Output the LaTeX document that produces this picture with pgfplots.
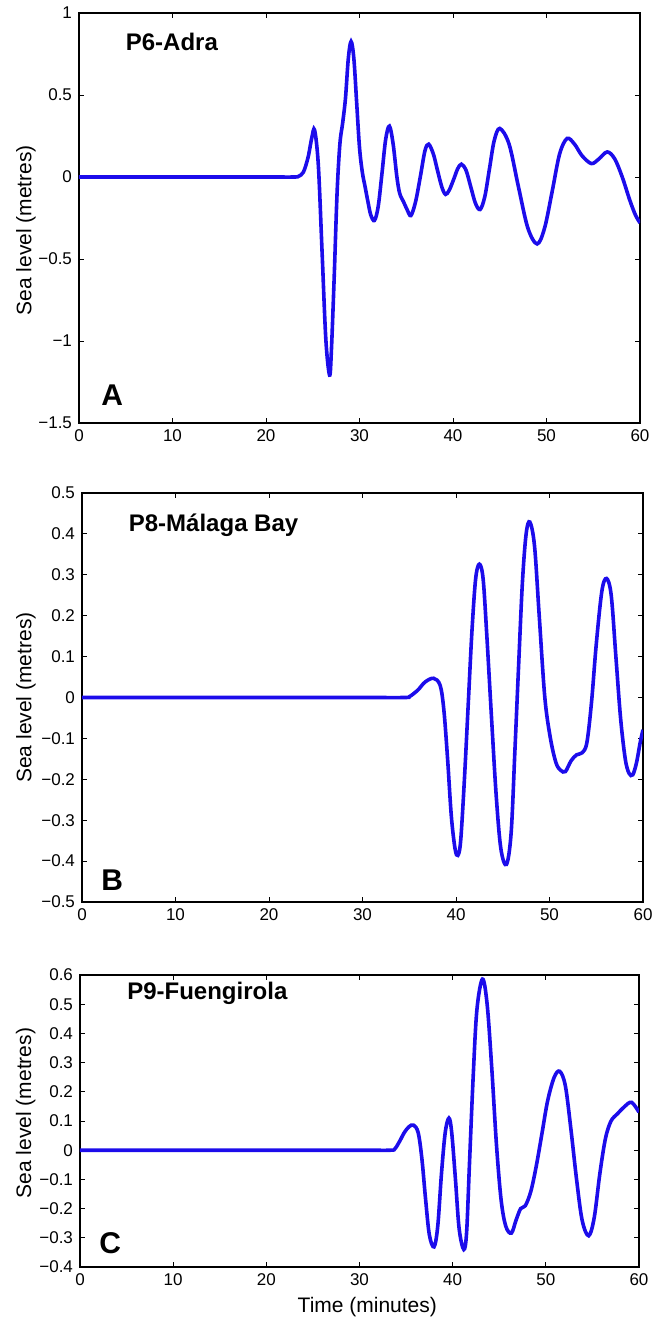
\documentclass[border=0pt]{standalone}
\usepackage{fontspec}
\setmainfont{Liberation Sans}
\usepackage{pgfplots}
\pgfplotsset{compat=1.18}
\definecolor{tideblue}{RGB}{28,12,235}

\pgfplotsset{
  tsunami/.style={
    scale only axis, anchor=north west,
    xmin=0, xmax=60, xtick={0,10,...,60},
    tick align=inside, tick pos=both,
    major tick length=2.5pt,
    axis line style={line width=1.1pt},
    every tick/.style={black, line width=0.5pt},
    tick label style={font=\fontsize{8.5}{9.5}\selectfont},
    /pgf/number format/assume math mode=true,
    ylabel={Sea level (metres)},
    every axis y label/.style={rotate=90, anchor=center, font=\fontsize{10.5}{12}\selectfont},
    every axis x label/.style={anchor=center, font=\fontsize{10.5}{12}\selectfont},
  },
  trace/.style={tideblue, line width=1.8pt, smooth, tension=0.55, no markers},
}

\begin{document}
\begin{tikzpicture}
\useasboundingbox (-39.5pt,6.5pt) rectangle (291pt,-652.5pt);

% A: P6-Adra
\begin{axis}[tsunami, at={(0pt,0pt)}, width=280.5pt, height=205pt,
  ymin=-1.5, ymax=1, ytick={-1.5,-1,-0.5,0,0.5,1},
  yticklabels={−1.5,−1,−0.5,0,0.5,1},
  ylabel style={at={(axis description cs:-0.0945,0.47)}}]
\addplot[trace] coordinates {
 (0,0) (10,0) (20,0) (23.0,0) (23.5,0.005) (24.0,0.03) (24.5,0.12) (24.9,0.24) (25.2,0.286)
 (25.6,0.07) (26.0,-0.46) (26.4,-0.99) (26.8,-1.208)
 (27.0,-1.05) (27.3,-0.6) (27.6,-0.1) (27.9,0.2) (28.2,0.33) (28.5,0.48) (28.8,0.72) (29.1,0.826)
 (29.4,0.72) (29.7,0.45) (30.0,0.18) (30.3,0.03) (30.6,-0.06) (30.9,-0.15) (31.2,-0.23) (31.6,-0.265)
 (32.0,-0.18) (32.4,0.02) (32.8,0.23) (33.2,0.31)
 (33.6,0.2) (34.0,0.0) (34.3,-0.1) (34.7,-0.15) (35.1,-0.2) (35.5,-0.235)
 (36.0,-0.15) (36.5,0.0) (37.0,0.16) (37.4,0.2)
 (37.9,0.14) (38.3,0.05) (38.8,-0.06) (39.2,-0.106)
 (39.6,-0.08) (40.1,-0.01) (40.5,0.05) (40.9,0.078)
 (41.4,0.04) (41.9,-0.06) (42.4,-0.16) (42.9,-0.198)
 (43.4,-0.12) (43.9,0.05) (44.4,0.22) (45.0,0.296)
 (46.0,0.2) (47.0,-0.06) (48.0,-0.31) (49.0,-0.408)
 (49.8,-0.31) (50.6,-0.09) (51.4,0.14) (52.2,0.235)
 (53.0,0.2) (53.8,0.13) (54.8,0.082)
 (55.6,0.11) (56.5,0.153)
 (57.3,0.11) (58.1,0.0) (58.9,-0.14) (59.5,-0.23) (60,-0.28)
};
\node[anchor=west, font=\fontsize{12}{14}\bfseries\selectfont] at (rel axis cs:0.071,0.929) {P6-Adra};
\node[font=\fontsize{15}{17}\bfseries\selectfont] at (rel axis cs:0.059,0.068) {A};
\end{axis}

% B: P8-Malaga Bay
\begin{axis}[tsunami, at={(1.5pt,-240pt)}, width=280.5pt, height=204.5pt,
  ymin=-0.5, ymax=0.5, ytick={-0.5,-0.4,-0.3,-0.2,-0.1,0,0.1,0.2,0.3,0.4,0.5},
  yticklabels={−0.5,−0.4,−0.3,−0.2,−0.1,0,0.1,0.2,0.3,0.4,0.5},
  ylabel style={at={(axis description cs:-0.1,0.5)}}]
\addplot[trace] coordinates {
 (0,0) (10,0) (20,0) (30,0) (34.5,0) (35.0,0.002) (35.5,0.01) (36.0,0.02) (36.7,0.038) (37.6,0.047)
 (38.3,0.03) (38.7,-0.03) (39.1,-0.15) (39.5,-0.29) (39.9,-0.37) (40.2,-0.386)
 (40.5,-0.35) (40.9,-0.2) (41.3,-0.02) (41.7,0.16) (42.1,0.29) (42.5,0.326)
 (42.9,0.29) (43.3,0.15) (43.8,-0.05) (44.3,-0.24) (44.8,-0.37) (45.4,-0.408)
 (45.9,-0.33) (46.3,-0.13) (46.7,0.08) (47.1,0.28) (47.5,0.4) (47.9,0.429)
 (48.4,0.37) (48.9,0.2) (49.5,0.0) (50.1,-0.1) (50.7,-0.16) (51.2,-0.178) (51.7,-0.181)
 (52.3,-0.155) (52.9,-0.14) (53.5,-0.135) (54.0,-0.11) (54.5,-0.01) (55.0,0.13) (55.6,0.26) (56.1,0.291)
 (56.6,0.25) (57.1,0.1) (57.6,-0.05) (58.1,-0.15) (58.5,-0.185) (58.9,-0.189)
 (59.3,-0.16) (59.7,-0.11) (60,-0.079)
};
\node[anchor=west, font=\fontsize{12}{14}\bfseries\selectfont] at (rel axis cs:0.071,0.922) {P8-Málaga Bay};
\node[font=\fontsize{15}{17}\bfseries\selectfont] at (rel axis cs:0.054,0.054) {B};
\end{axis}

% C: P9-Fuengirola
\begin{axis}[tsunami, at={(0.5pt,-481pt)}, width=279.5pt, height=146pt,
  ymin=-0.4, ymax=0.6, ytick={-0.4,-0.3,-0.2,-0.1,0,0.1,0.2,0.3,0.4,0.5,0.6},
  yticklabels={−0.4,−0.3,−0.2,−0.1,0,0.1,0.2,0.3,0.4,0.5,0.6},
  ylabel style={at={(axis description cs:-0.097,0.527)}},
  xlabel={Time (minutes)},
  xlabel style={at={(axis description cs:0.514,-0.137)}}]
\addplot[trace] coordinates {
 (0,0) (10,0) (20,0) (30,0) (33.3,0) (33.8,0.005) (34.3,0.03) (34.8,0.06) (35.3,0.08) (35.8,0.086)
 (36.3,0.06) (36.7,-0.03) (37.1,-0.17) (37.5,-0.29) (38.0,-0.331)
 (38.4,-0.26) (38.8,-0.08) (39.2,0.06) (39.6,0.11)
 (39.9,0.06) (40.3,-0.1) (40.7,-0.27) (41.2,-0.34)
 (41.5,-0.28) (41.8,-0.05) (42.2,0.25) (42.6,0.48) (43.2,0.586)
 (43.7,0.5) (44.2,0.28) (44.7,0.02) (45.2,-0.17) (45.7,-0.26) (46.3,-0.284)
 (46.8,-0.24) (47.3,-0.2) (47.8,-0.19) (48.4,-0.14) (49.0,-0.05) (49.6,0.06) (50.2,0.17) (50.9,0.25) (51.5,0.27)
 (52.1,0.22) (52.7,0.07) (53.3,-0.1) (53.9,-0.24) (54.6,-0.293)
 (55.2,-0.23) (55.8,-0.08) (56.4,0.04) (57.0,0.1) (57.7,0.125) (58.4,0.148) (59.2,0.164) (60,0.13)
};
\node[anchor=west, font=\fontsize{12}{14}\bfseries\selectfont] at (rel axis cs:0.072,0.938) {P9-Fuengirola};
\node[font=\fontsize{15}{17}\bfseries\selectfont] at (rel axis cs:0.054,0.082) {C};
\end{axis}
\end{tikzpicture}
\end{document}
